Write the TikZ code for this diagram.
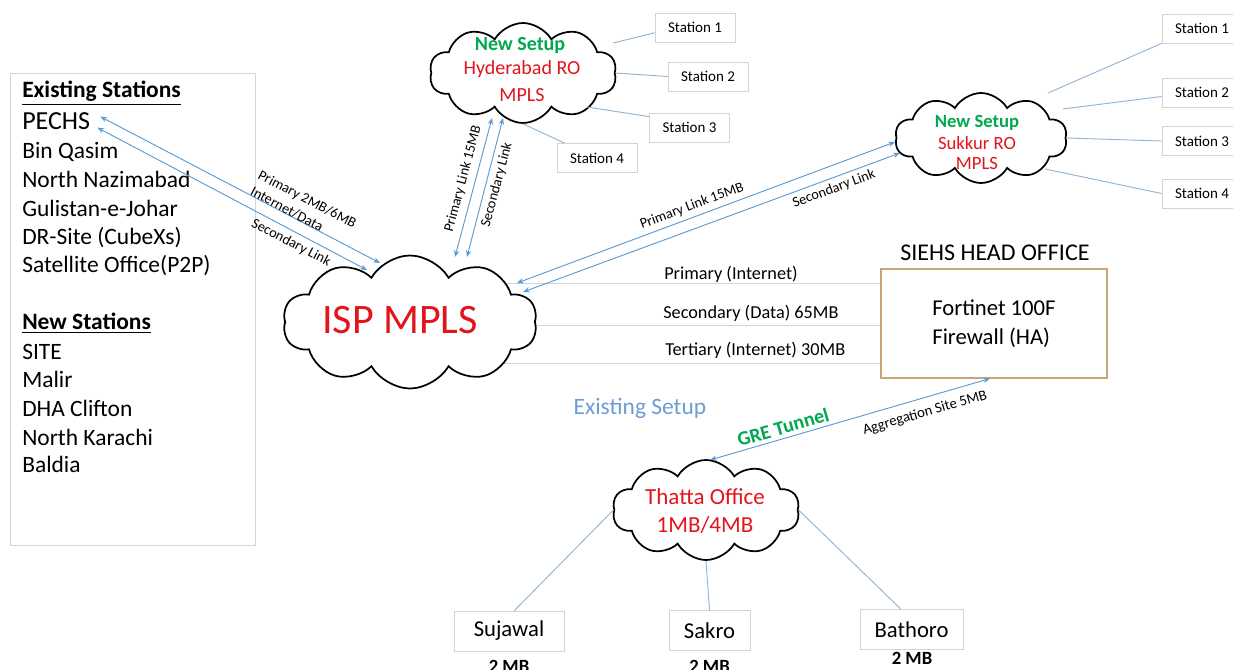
\documentclass[tikz,border=0pt]{standalone}
\usepackage{fontspec}
\setmainfont{Carlito}
\usetikzlibrary{shapes.symbols,arrows.meta,backgrounds,calc}
\definecolor{lnkblue}{HTML}{5B9BD5}
\definecolor{stline}{HTML}{93B5D5}
\definecolor{hgray}{HTML}{CFD6DE}
\definecolor{boxgray}{HTML}{D4D4D4}
\definecolor{redtxt}{HTML}{E3151C}
\definecolor{greentxt}{HTML}{00A84F}
\definecolor{hobrd}{HTML}{C9A57A}
\definecolor{setupblue}{HTML}{6B9ED4}
\newcommand{\fsz}[1]{\fontsize{#1}{#1}\selectfont}
\begin{document}
\begin{tikzpicture}[x=0.75pt,y=-0.75pt,
 cloudn/.style={cloud, cloud puffs=10, cloud puff arc=120, draw=black, line width=1.3pt, fill=white, inner sep=0pt},
 stbox/.style={draw=boxgray, line width=0.6pt, fill=white, inner sep=0pt, minimum width=60pt, minimum height=21.75pt, font=\fsz{11.25}},
 tbox/.style={draw=boxgray, line width=0.6pt, fill=white, inner sep=0pt, minimum height=30pt, font=\fsz{17}},
 link/.style={draw=lnkblue, line width=0.7pt, {Stealth[length=5pt,width=4pt]}-{Stealth[length=5pt,width=4pt]}},
 stl/.style={draw=stline, line width=0.7pt},
 hln/.style={draw=hgray, line width=0.7pt},
 lbl/.style={font=\fsz{10.7}, inner sep=0pt},
 lst/.style={font=\fsz{17.6}, anchor=base west, inner sep=0pt},
 ctxt/.style={inner sep=0pt},
 mb/.style={font=\bfseries\fsz{14}, inner sep=0pt}
]
\useasboundingbox (0,0) rectangle (1233,670);

% ---------- left list ----------
\node[draw=boxgray, line width=0.6pt, minimum width=183.75pt, minimum height=354pt, inner sep=0pt] (lbox) at (132.5,309) {};
\node[lst] (hdr1) at (22,98) {\textbf{\underline{Existing Stations}}};
\node[lst, font=\fsz{19.5}] (pechs) at (22,130) {PECHS};
\node[lst] (l2) at (22,159) {Bin Qasim};
\node[lst] (l3) at (22,188) {North Nazimabad};
\node[lst] (l4) at (22,217) {Gulistan-e-Johar};
\node[lst] (l5) at (22,245) {DR-Site (CubeXs)};
\node[lst] (l6) at (22,273) {Satellite Office(P2P)};
\node[lst] (hdr2) at (22,330) {\textbf{\underline{New Stations}}};
\node[lst] (n1) at (22,360) {SITE};
\node[lst] (n2) at (22,388) {Malir};
\node[lst] (n3) at (22,417) {DHA Clifton};
\node[lst] (n4) at (22,446) {North Karachi};
\node[lst] (n5) at (22,473) {Baldia};

% ---------- clouds ----------
\node[cloudn, minimum width=190.5pt, minimum height=99.75pt] (isp) at (410,322) {};
\node[ctxt, text=redtxt, font=\fsz{31.5}] (isptxt) at (400,320) {ISP MPLS};

\node[cloudn, minimum width=140.25pt, minimum height=75pt] (hyd) at (523,73) {};
\node[ctxt, text=greentxt, font=\bfseries\fsz{15}] (hyd1) at (520,46) {New Setup};
\node[ctxt, text=redtxt, font=\fsz{15}] (hyd2) at (522,69) {Hyderabad RO};
\node[ctxt, text=redtxt, font=\fsz{15}] (hyd3) at (522,95) {MPLS};

\node[cloudn, minimum width=129pt, minimum height=67.5pt] (snk) at (981,138) {};
\node[ctxt, text=greentxt, font=\bfseries\fsz{14}] (snk1) at (977,123) {New Setup};
\node[ctxt, text=redtxt, font=\fsz{14}] (snk2) at (977,143) {Sukkur RO};
\node[ctxt, text=redtxt, font=\fsz{14}] (snk3) at (977,164) {MPLS};

\node[cloudn, minimum width=140.25pt, minimum height=75pt] (tht) at (706,510) {};
\node[ctxt, text=redtxt, font=\fsz{17.25}] (tht1) at (705,497) {Thatta Office};
\node[ctxt, text=redtxt, font=\fsz{17.25}] (tht2) at (705,525) {1MB/4MB};

% ---------- head office ----------
\node[draw=hobrd, line width=0.8pt, fill=white, minimum width=169.5pt, minimum height=81.75pt, align=left, font=\fontsize{17}{21.75}\selectfont] (ho) at (994,323.5) {Fortinet 100F\\Firewall (HA)};
\node[ctxt, font=\fsz{18}] (hotitle) at (995,253) {SIEHS HEAD OFFICE};

% ---------- station boxes ----------
\node[stbox] (hs1) at (695,27.5) {Station 1};
\node[stbox] (hs2) at (708,76.5) {Station 2};
\node[stbox] (hs3) at (689.5,127.5) {Station 3};
\node[stbox] (hs4) at (597,158) {Station 4};

\node[stbox] (ss1) at (1202,28.5) {Station 1};
\node[stbox] (ss2) at (1202,92.5) {Station 2};
\node[stbox] (ss3) at (1202,141) {Station 3};
\node[stbox] (ss4) at (1202,193.5) {Station 4};

\node[tbox, minimum width=82.5pt] (suj) at (509,631) {Sujawal};
\node[tbox, minimum width=60.75pt] (sak) at (709.5,630.5) {Sakro};
\node[tbox, minimum width=77.25pt] (bat) at (911.5,629.5) {Bathoro};
\node[mb] (mb1) at (509,666) {2 MB};
\node[mb] (mb2) at (709.5,666) {2 MB};
\node[mb] (mb3) at (912,658) {2 MB};

% ---------- station connectors ----------
\draw[stl] ($(hyd.center)+(90,-30)$) -- ([yshift=-4pt]hs1.west);
\draw[stl] (hyd.east) -- (hs2.west);
\draw[stl] ($(hyd.center)+(64,34)$) -- ([yshift=-3pt]hs3.north west);
\draw[stl] (hyd.south) -- ([xshift=6pt]hs4.north west);

\draw[stl] ($(snk.center)+(67,-45)$) -- (ss1.south west);
\draw[stl] ($(snk.center)+(82,-29)$) -- ([yshift=-3pt]ss2.west);
\draw[stl] (snk.east) -- (ss3.west);
\draw[stl] ($(snk.center)+(64,31)$) -- (ss4.west);

\draw[stl] (tht.west) -- ([xshift=4pt]suj.north);
\draw[stl] (tht.south) -- (sak.north);
\draw[stl] (tht.east) -- ([xshift=-8pt]bat.north);

% ---------- links ----------
\draw[link] ($(pechs.east)+(10,-5)$) -- ($(isp.center)+(-30,-59)$);
\draw[link] ($(pechs.east)+(7,6)$) -- ($(isp.center)+(-43,-52)$);
\node[lbl, rotate=-27.5] (lp1) at (307,200) {Primary 2MB/6MB};
\node[lbl, rotate=-27.5] (lp2) at (287,209) {Internet/Data};
\node[lbl, rotate=-27.5] (lp3) at (291,243) {Secondary Link};

\draw[link] ($(isp.center)+(45,-65)$) -- ($(hyd.center)+(-31,45)$);
\draw[link] ($(isp.center)+(57,-65)$) -- ($(hyd.center)+(-20,45)$);
\node[lbl, rotate=75] (lh1) at (463,179) {Primary Link 15MB};
\node[lbl, rotate=75] (lh2) at (497,185) {Secondary Link};

\draw[link] ($(isp.center)+(107,-39)$) -- ($(snk.center)+(-86,4)$);
\draw[link] ($(isp.center)+(113,-30)$) -- ($(snk.center)+(-81,15)$);
\node[lbl, rotate=20.5] (ls1) at (692,206) {Primary Link 15MB};
\node[lbl, rotate=20.5] (ls2) at (834,189) {Secondary Link};

\draw[link] ($(tht.center)+(4,-50)$) -- ([xshift=-3pt]ho.south);
\node[ctxt, text=greentxt, font=\bfseries\fsz{15}, rotate=16] (gre) at (783,427) {GRE Tunnel};
\node[lbl, font=\fsz{11}, rotate=16] (agg) at (925,413) {Aggregation Site 5MB};

% ---------- ISP to head office ----------
\coordinate (ya) at (0,283);
\coordinate (yb) at (0,325);
\coordinate (yc) at (0,363);
\node[ctxt, anchor=west, font=\fsz{13.7}] (t1) at (664,274) {Primary (Internet)};
\node[ctxt, anchor=west, font=\fsz{13.7}] (t2) at (663,313) {Secondary (Data) 65MB};
\node[ctxt, anchor=west, font=\fsz{13.7}] (t3) at (665,350) {Tertiary (Internet) 30MB};
\node[ctxt, text=setupblue, font=\fsz{17.6}] (exs) at (640,408) {Existing Setup};

\begin{scope}[on background layer]
 \fill[white] (0,0) rectangle (1233,670);
 \draw[hln] (isp.center |- ya) -- (ho.west |- ya);
 \draw[hln] (isp.center |- yb) -- (ho.west |- yb);
 \draw[hln] (isp.center |- yc) -- (ho.west |- yc);
\end{scope}
\end{tikzpicture}
\end{document}
